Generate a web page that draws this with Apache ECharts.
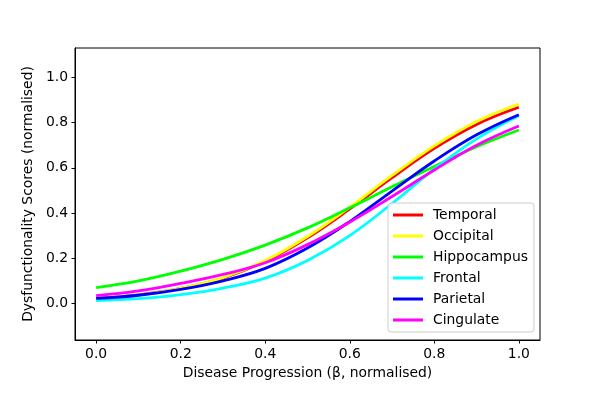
<!DOCTYPE html>
<html>
<head>
<meta charset="utf-8">
<script src="https://cdn.jsdelivr.net/npm/echarts@6/dist/echarts.min.js"></script>
<style>
  html, body { margin: 0; padding: 0; background: #fff; }
  #app { width: 600px; height: 400px; }
</style>
</head>
<body>
<div id="app"></div>
<script>
(function() {
  // x positions (beta, normalised)
  const progression = [0.0, 0.1, 0.2, 0.3, 0.4, 0.5, 0.6, 0.7, 0.8, 0.9, 1.0];
  // dysfunction scores
  const temporal = [0.022, 0.038, 0.066, 0.112, 0.186, 0.290, 0.418, 0.556, 0.686, 0.792, 0.868];
  const occipital = [0.020, 0.036, 0.066, 0.114, 0.190, 0.296, 0.426, 0.566, 0.697, 0.805, 0.882];
  const hippocampus = [0.070, 0.100, 0.143, 0.195, 0.258, 0.334, 0.423, 0.516, 0.606, 0.693, 0.767];
  const frontal = [0.012, 0.021, 0.039, 0.068, 0.112, 0.190, 0.300, 0.442, 0.594, 0.728, 0.830];
  const parietal = [0.022, 0.036, 0.062, 0.100, 0.155, 0.245, 0.362, 0.497, 0.630, 0.746, 0.835];
  const cingulate = [0.034, 0.055, 0.088, 0.128, 0.180, 0.260, 0.360, 0.473, 0.590, 0.700, 0.785];
  // tick labels
  const xTicks = [0.0, 0.2, 0.4, 0.6, 0.8, 1.0];
  const yTicks = [0.0, 0.2, 0.4, 0.6, 0.8, 1.0];

  const regions = [
    { name: "Temporal", values: temporal, color: "#ff0000" },
    { name: "Occipital", values: occipital, color: "#ffff00" },
    { name: "Hippocampus", values: hippocampus, color: "#00ff00" },
    { name: "Frontal", values: frontal, color: "#00ffff" },
    { name: "Parietal", values: parietal, color: "#0000ff" },
    { name: "Cingulate", values: cingulate, color: "#ff00ff" }
  ];

  const font = "DejaVu Sans";
  const fontSize = 13.9;
  // flat line used as legend marker
  const lineIcon = "path://M0,0 H30 V3 H0 Z";

  const axisCommon = {
    axisLine: { show: true, onZero: false, lineStyle: { color: "#000", width: 1 } },
    splitLine: { show: false }
  };

  const myChart = echarts.init(document.getElementById("app"), null, { renderer: "canvas" });
  const option = {
    animation: false,
    backgroundColor: "#fff",
    textStyle: { fontFamily: font },
    grid: {
      left: 75,
      right: 60,
      top: 48,
      bottom: 60,
      show: true,
      borderColor: "#000",
      borderWidth: 1,
      backgroundColor: "transparent"
    },
    legend: {
      orient: "vertical",
      left: 388,
      top: 203,
      padding: [5, 6, 5, 5],
      itemWidth: 30,
      itemHeight: 14,
      itemGap: 7,
      icon: lineIcon,
      borderColor: "#cccccc",
      borderWidth: 1,
      borderRadius: 3,
      backgroundColor: "rgba(255,255,255,0.8)",
      textStyle: {
        fontFamily: font,
        fontSize: fontSize,
        color: "#000",
        padding: [0, 0, 0, 5]
      },
      data: regions.map(r => ({ name: r.name, icon: lineIcon }))
    },
    xAxis: Object.assign({}, axisCommon, {
      type: "value",
      min: -0.05,
      max: 1.05,
      name: "Disease Progression (β, normalised)",
      nameLocation: "middle",
      nameGap: 26,
      nameTextStyle: { fontFamily: font, fontSize: fontSize, color: "#000" },
      axisTick: {
        show: true,
        inside: false,
        length: 3.5,
        customValues: xTicks,
        lineStyle: { color: "#000", width: 1 }
      },
      axisLabel: {
        customValues: xTicks,
        margin: 7,
        fontFamily: font,
        fontSize: fontSize,
        color: "#000",
        formatter: v => v.toFixed(1)
      }
    }),
    yAxis: Object.assign({}, axisCommon, {
      type: "value",
      min: -0.162,
      max: 1.13,
      name: "Dysfunctionality Scores (normalised)",
      nameLocation: "middle",
      nameGap: 36,
      nameTextStyle: { fontFamily: font, fontSize: fontSize, color: "#000" },
      axisTick: {
        show: true,
        inside: false,
        length: 3.5,
        customValues: yTicks,
        lineStyle: { color: "#000", width: 1 }
      },
      axisLabel: {
        customValues: yTicks,
        margin: 7,
        fontFamily: font,
        fontSize: fontSize,
        color: "#000",
        formatter: v => v.toFixed(1)
      }
    }),
    series: regions.map(r => ({
      name: r.name,
      type: "line",
      smooth: 0.4,
      symbol: "none",
      legendIcon: lineIcon,
      color: r.color,
      lineStyle: { color: r.color, width: 2.8 },
      data: progression.map((x, i) => [x, r.values[i]])
    }))
  };
  myChart.setOption(option);
})();
</script>
</body>
</html>
